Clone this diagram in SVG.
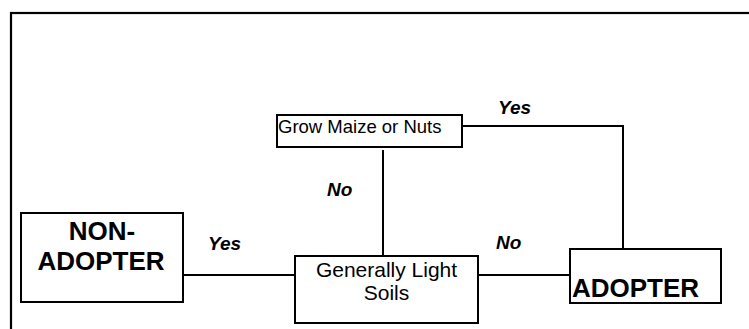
<svg xmlns="http://www.w3.org/2000/svg" width="749" height="329" viewBox="0 0 749 329">
  <style>
    .box { fill: #ffffff; stroke: #000000; stroke-width: 2; }
    .link { fill: none; stroke: #000000; stroke-width: 2; }
    .frame { fill: none; stroke: #000000; stroke-width: 2.2; }
    .t { font-family: "Liberation Sans", Arial, sans-serif; fill: #000000; }
    .big { font-size: 26px; font-weight: bold; }
    .lbl { font-size: 19px; font-weight: bold; font-style: italic; }
  </style>
  <rect width="749" height="329" fill="#ffffff"/>
  <!-- outer frame, open towards the right and bottom edges -->
  <rect class="frame" x="11" y="13" width="800" height="400"/>

  <g id="connectors">
    <line class="link" x1="183" y1="275" x2="295" y2="275"/>
    <line class="link" x1="478" y1="275" x2="573" y2="275"/>
    <line class="link" x1="383" y1="150" x2="383" y2="256"/>
    <polyline class="link" points="463,126 623,126 623,249"/>
    <text class="t lbl" x="498" y="114">Yes</text>
    <text class="t lbl" x="327" y="196">No</text>
    <text class="t lbl" x="208" y="250">Yes</text>
    <text class="t lbl" x="496" y="249">No</text>
  </g>

  <g id="grow">
    <rect class="box" x="277" y="115" width="185" height="32"/>
    <text class="t" x="278" y="133" font-size="18.5">Grow Maize or Nuts</text>
  </g>

  <g id="soils">
    <rect class="box" x="295" y="256" width="183" height="67"/>
    <text class="t" x="386.5" y="277" font-size="21" text-anchor="middle">Generally Light</text>
    <text class="t" x="386.5" y="300" font-size="21" text-anchor="middle">Soils</text>
  </g>

  <g id="non-adopter">
    <rect class="box" x="21" y="213" width="162" height="89"/>
    <text class="t big" x="102" y="240" text-anchor="middle">NON-</text>
    <text class="t big" x="101" y="270" text-anchor="middle">ADOPTER</text>
  </g>

  <g id="adopter">
    <rect class="box" x="570" y="249" width="151" height="54"/>
    <text class="t big" x="572" y="297">ADOPTER</text>
  </g>
</svg>
